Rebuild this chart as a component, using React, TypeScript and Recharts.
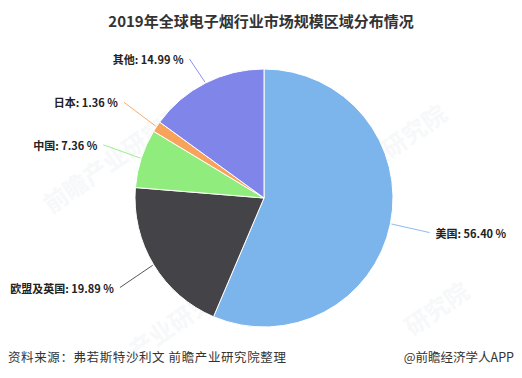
import { PieChart, Pie, Cell } from "recharts";

const regions = ["美国", "欧盟及英国", "中国", "日本", "其他"];
const shares = [56.4, 19.89, 7.36, 1.36, 14.99];
const colors = ["#7cb5ec", "#434348", "#90ed7d", "#f7a35c", "#8085e9"];

const data = regions.map((name, i) => ({ name, value: shares[i] }));

const RAD = Math.PI / 180;

function SliceLabel(props: any) {
  const { cx, cy, midAngle, outerRadius, name, value, index } = props;
  const cos = Math.cos(-midAngle * RAD);
  const sin = Math.sin(-midAngle * RAD);
  const sx = cx + (outerRadius + 1) * cos;
  const sy = cy + (outerRadius + 1) * sin;
  const lx = cx + (outerRadius + 44) * cos;
  let ly = cy + (outerRadius + 44) * sin;
  if (ly < 59) ly = 59;
  const right = cos >= 0;
  const ex = right ? lx - 4 : lx + 4;
  return (
    <g>
      <path
        d={`M${sx},${sy} Q${(sx + ex) / 2},${(sy + ly) / 2} ${ex},${ly}`}
        stroke={colors[index]}
        strokeWidth={1}
        fill="none"
        opacity={0.9}
      />
      <text
        x={right ? lx + 2 : lx - 2}
        y={ly}
        textAnchor={right ? "start" : "end"}
        dominantBaseline="central"
        fontSize={11}
        fontWeight="bold"
        fill="#222"
        fontFamily="'Noto Sans CJK SC', 'Noto Sans', sans-serif"
      >
        {name}: {value.toFixed(2)} %
      </text>
    </g>
  );
}

const watermarks = [
  { x: 30, y: 140, t: "前瞻产业研究院" },
  { x: 290, y: 140, t: "前瞻产业研究院" },
  { x: 120, y: 300, t: "产业研究院" },
  { x: 400, y: 290, t: "研究院" },
];

export default function App() {
  return (
    <div
      style={{
        position: "relative",
        width: 522,
        height: 378,
        margin: -8,
        background: "#fff",
        fontFamily: "'Noto Sans CJK SC', sans-serif",
        overflow: "hidden",
      }}
    >
      <div
        style={{
          position: "absolute",
          top: 10,
          left: 0,
          width: 522,
          textAlign: "center",
          fontSize: 15,
          fontWeight: "bold",
          color: "#333",
        }}
      >
        2019年全球电子烟行业市场规模区域分布情况
      </div>
      {watermarks.map((w, i) => (
        <div
          key={i}
          style={{
            position: "absolute",
            left: w.x,
            top: w.y,
            fontSize: 24,
            fontWeight: "bold",
            color: "#e8ecef",
            opacity: 0.35,
            transform: "rotate(-35deg)",
            whiteSpace: "nowrap",
          }}
        >
          {w.t}
        </div>
      ))}
      <div style={{ position: "absolute", top: 0, left: 0 }}>
        <PieChart
          width={522}
          height={378}
          margin={{ top: 0, right: 0, bottom: 0, left: 0 }}
        >
          <Pie
            data={data}
            dataKey="value"
            nameKey="name"
            cx={264}
            cy={198}
            outerRadius={129}
            startAngle={90}
            endAngle={-270}
            stroke="#fff"
            strokeWidth={1}
            label={SliceLabel}
            labelLine={false}
            isAnimationActive={false}
          >
            {data.map((d, i) => (
              <Cell key={d.name} fill={colors[i]} />
            ))}
          </Pie>
        </PieChart>
      </div>
      <div
        style={{
          position: "absolute",
          top: 347,
          left: 8,
          fontSize: 12.5,
          color: "#333",
          letterSpacing: 0.6,
        }}
      >
        资料来源：弗若斯特沙利文 前瞻产业研究院整理
      </div>
      <div
        style={{
          position: "absolute",
          top: 347,
          right: 8,
          fontSize: 12.5,
          color: "#333",
        }}
      >
        @前瞻经济学人APP
      </div>
    </div>
  );
}
